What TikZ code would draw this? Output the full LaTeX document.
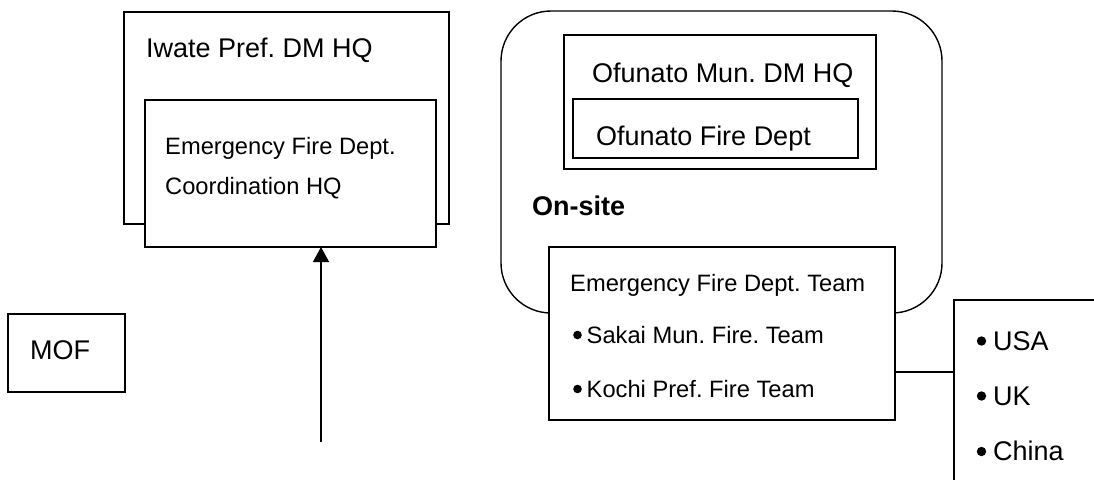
\documentclass[tikz,border=0pt]{standalone}
\usepackage{fontspec}
\setmainfont{Liberation Sans}
\usetikzlibrary{arrows.meta}
\begin{document}
\frenchspacing
\begin{tikzpicture}[x=1pt,y=-1pt,
  box/.style={draw,line width=1.4pt,fill=white,inner sep=0pt,outer sep=0pt,anchor=north west},
  big/.style={font=\fontsize{27}{32}\selectfont,inner sep=0pt,anchor=base west},
  small/.style={font=\fontsize{23.7}{28}\selectfont,inner sep=0pt,anchor=base west},
  bul/.style={fill=black},
  link/.style={line width=1.3pt}]
\useasboundingbox (0,0) rectangle (1094,480);
% Iwate
\node[box,minimum width=325pt,minimum height=212pt] (iwate) at (124,12) {};
\node[big] (iwatet) at (146,57) {Iwate Pref. DM HQ};
\node[box,line width=1.8pt,minimum width=291pt,minimum height=147pt] (coord) at (145,100) {};
\node[small] (coordt1) at (165,154) {Emergency Fire Dept.};
\node[small] (coordt2) at (165,194) {Coordination HQ};
% On-site
\node[box,rounded corners=50pt,minimum width=441pt,minimum height=302pt] (onsite) at (501,11) {};
\node[box,minimum width=312pt,minimum height=134pt] (ofmun) at (564,35) {};
\node[big] (ofmunt) at (592,82) {Ofunato Mun. DM HQ};
\node[box,minimum width=285pt,minimum height=59pt] (offire) at (573,99) {};
\node[big] (offiret) at (596,145) {Ofunato Fire Dept};
\node[big,font=\fontsize{27}{32}\selectfont\bfseries] (onsitet) at (532,215) {On-site};
% Team
\node[box,minimum width=346pt,minimum height=173pt] (team) at (549,247) {};
\node[small] (teamt) at (570,291) {Emergency Fire Dept. Team};
\fill[bul] (577.5,335) circle (4.3pt);
\node[small] (sakai) at (586.5,343) {Sakai Mun. Fire. Team};
\fill[bul] (577.5,389) circle (4.3pt);
\node[small] (kochi) at (586.5,397) {Kochi Pref. Fire Team};
% Countries
\coordinate (ctry) at (954,300);
\draw[line width=1.4pt] (1094,300) -- (ctry) -- (954,480);
\fill[bul] (981.5,341) circle (4.7pt);
\node[big] (usa) at (993,350) {USA};
\fill[bul] (981.5,396) circle (4.7pt);
\node[big] (uk) at (993,405) {UK};
\fill[bul] (981.5,451.5) circle (4.7pt);
\node[big] (china) at (993,460) {China};
\coordinate (ctryl) at (954,372);
\draw[link] (team.east |- ctryl) -- (ctryl);
% MOF
\node[box,minimum width=117pt,minimum height=78pt] (mof) at (8,314) {};
\node[big] (moft) at (30,359) {MOF};
% Arrow
\coordinate (src) at (321,442);
\draw[link,-{Triangle[width=16pt,length=15pt]}] (src) -- (src |- coord.south);
\end{tikzpicture}
\end{document}
